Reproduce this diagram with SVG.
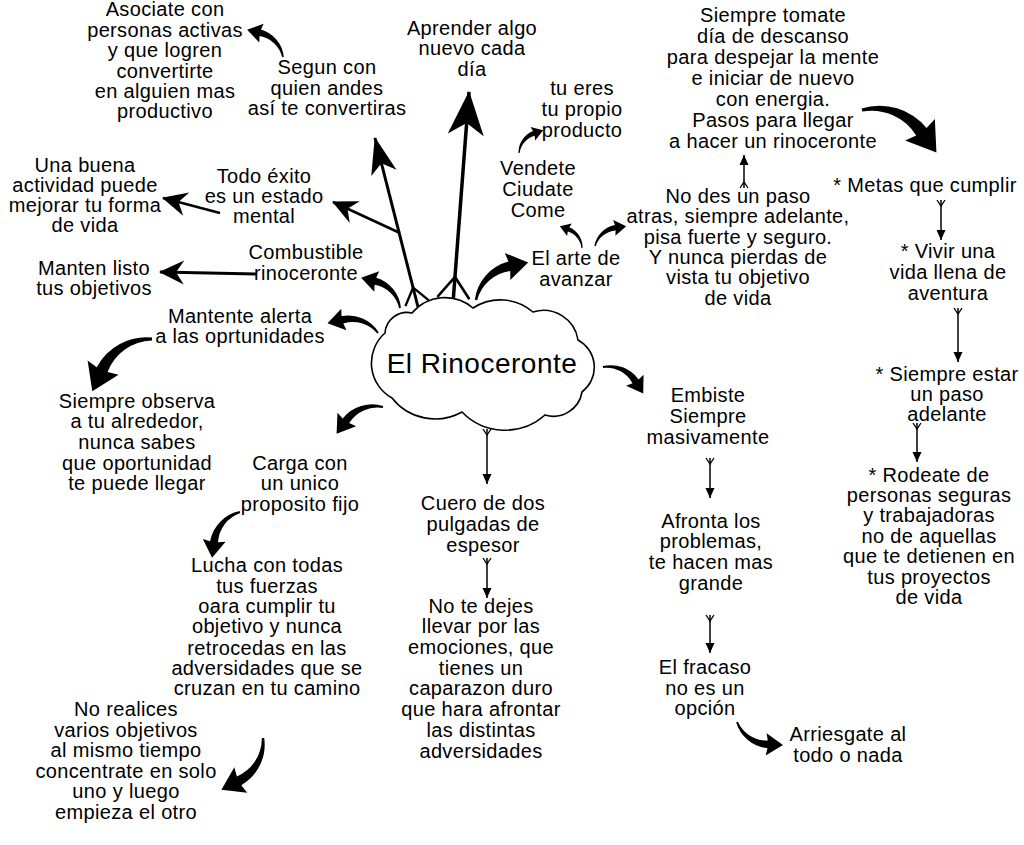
<svg xmlns="http://www.w3.org/2000/svg" width="1024" height="845" viewBox="0 0 1024 845">
<defs>
<style>
.t{font-family:"Liberation Sans",Arial,sans-serif;font-size:20px;letter-spacing:0.35px;fill:#000;text-anchor:middle}
.c{font-size:28px;letter-spacing:0.5px}
.thin{stroke:#000;stroke-width:1.5;fill:none}
.sh{stroke:#000;fill:none}
.sw{fill:#000}
</style>
<path id="sw" d="M -1.4,-1.4 A 76 76 0 0 1 80.8,-22.4 L 83.8,-37.4 L 107.1,-2.6 L 65.9,4.9 L 74.5,-7.7 A 66 66 0 0 0 1.4,1.4 Z"/>
<marker id="tri" viewBox="-12 -6 14 12" refX="0" refY="0" markerWidth="14" markerHeight="12" markerUnits="userSpaceOnUse" orient="auto"><path d="M0,0 L-10,-4.5 L-10,4.5 Z"/></marker>
<marker id="fork" viewBox="-2 -6 12 12" refX="0" refY="0" markerWidth="12" markerHeight="12" markerUnits="userSpaceOnUse" orient="auto"><path d="M0,-4 L6,0 L0,4" fill="none" stroke="#000" stroke-width="1.3"/></marker>
<marker id="dS" viewBox="-28 -14 30 28" refX="0" refY="0" markerWidth="30" markerHeight="28" markerUnits="userSpaceOnUse" orient="auto"><path d="M1,0 L-24,-12 L-16,0 L-24,12 Z"/></marker>
<marker id="dM" viewBox="-40 -16 42 32" refX="0" refY="0" markerWidth="42" markerHeight="32" markerUnits="userSpaceOnUse" orient="auto"><path d="M1,0 L-36,-13 L-26,0 L-36,13 Z"/></marker>
<marker id="dL" viewBox="-46 -20 48 40" refX="0" refY="0" markerWidth="48" markerHeight="40" markerUnits="userSpaceOnUse" orient="auto"><path d="M1,0 L-43,-18 L-31,0 L-43,18 Z"/></marker>
</defs>
<rect width="1024" height="845" fill="#fff"/>

<g id="connectors">
  <line class="sh" stroke-width="3" x1="418" y1="307" x2="375" y2="138" marker-end="url(#dM)"/>
  <path class="sh" stroke-width="2.4" d="M405.4,306.1 L413.1,287.6 L428.6,300.1"/>
  <line class="sh" stroke-width="3.5" x1="453" y1="303" x2="469" y2="92" marker-end="url(#dL)"/>
  <path class="sh" stroke-width="2.6" d="M437.4,296.8 L455,277 L469.4,299.2"/>
  <line class="sh" stroke-width="2.5" x1="400" y1="233" x2="333" y2="202" marker-end="url(#dS)"/>
  <line class="sh" stroke-width="3" x1="256" y1="274" x2="160" y2="272" marker-end="url(#dS)"/>
  <line class="sh" stroke-width="2.5" x1="220" y1="213" x2="163" y2="198" marker-end="url(#dS)"/>
  <line class="thin" x1="487" y1="429" x2="487" y2="484" marker-start="url(#fork)" marker-end="url(#tri)"/>
  <line class="thin" x1="487" y1="558" x2="487" y2="598" marker-start="url(#fork)" marker-end="url(#tri)"/>
  <line class="thin" x1="710" y1="458" x2="710" y2="498" marker-start="url(#fork)" marker-end="url(#tri)"/>
  <line class="thin" x1="710" y1="615" x2="710" y2="653" marker-start="url(#fork)" marker-end="url(#tri)"/>
  <line class="thin" x1="941" y1="200" x2="941" y2="240" marker-start="url(#fork)" marker-end="url(#tri)"/>
  <line class="thin" x1="958" y1="308" x2="958" y2="362" marker-start="url(#fork)" marker-end="url(#tri)"/>
  <line class="thin" x1="917" y1="423" x2="917" y2="462" marker-start="url(#fork)" marker-end="url(#tri)"/>
  <line class="thin" x1="744" y1="188" x2="744" y2="155" marker-start="url(#fork)" marker-end="url(#tri)"/>
  <use href="#sw" class="sw" transform="translate(283,57) rotate(-144.25) scale(0.42,-0.42)"/>
  <use href="#sw" class="sw" transform="translate(476,300) rotate(-34.35) scale(0.6,0.6)"/>
  <use href="#sw" class="sw" transform="translate(400,308) rotate(-143.55) scale(0.46,-0.46)"/>
  <use href="#sw" class="sw" transform="translate(378,333) rotate(-170.55) scale(0.48,-0.48)"/>
  <use href="#sw" class="sw" transform="translate(152,339) rotate(137.45) scale(0.74,-0.74)"/>
  <use href="#sw" class="sw" transform="translate(383,407) rotate(148.65) scale(0.5,-0.5)"/>
  <use href="#sw" class="sw" transform="translate(240,512) rotate(120.05) scale(0.5,-0.5)"/>
  <use href="#sw" class="sw" transform="translate(263,738) rotate(130.15) scale(0.62,0.62)"/>
  <use href="#sw" class="sw" transform="translate(603,367) rotate(34.85) scale(0.45,0.45)"/>
  <use href="#sw" class="sw" transform="translate(862,110) rotate(31.1) scale(0.8,0.8)"/>
  <use href="#sw" class="sw" transform="translate(582,248) rotate(-136.85) scale(0.29,-0.29)"/>
  <use href="#sw" class="sw" transform="translate(595,246) rotate(-30.95) scale(0.345,0.345)"/>
  <use href="#sw" class="sw" transform="translate(519,153) rotate(-41.95) scale(0.31,0.31)"/>
  <use href="#sw" class="sw" transform="translate(737,722) rotate(25.25) scale(0.48,-0.48)"/>
</g>

<g id="center">
  <path d="M392,398 A40 40 0 0 1 385,333 A22 22 0 0 1 412,313 A43 43 0 0 1 473,308 A50 50 0 0 1 533,312 A35 35 0 0 1 578,340 A31 31 0 0 1 582,392 A29 29 0 0 1 545,415 A60 60 0 0 1 462,412 A55 55 0 0 1 392,398 Z" fill="#fff" stroke="#000" stroke-width="1.6"/>
  <text class="t c" x="482" y="373">El Rinoceronte</text>
</g>

<g id="n-asociate"><text class="t"><tspan x="165" y="16">Asociate con</tspan><tspan x="165" y="37">personas activas</tspan><tspan x="165" y="57">y que logren</tspan><tspan x="165" y="78">convertirte</tspan><tspan x="165" y="98">en alguien mas</tspan><tspan x="165" y="118">productivo</tspan></text></g>
<g id="n-segun"><text class="t"><tspan x="327" y="74">Segun con</tspan><tspan x="327" y="95">quien andes</tspan><tspan x="327" y="115">así te convertiras</tspan></text></g>
<g id="n-aprender"><text class="t"><tspan x="472" y="35">Aprender algo</tspan><tspan x="472" y="55">nuevo cada</tspan><tspan x="472" y="76">día</tspan></text></g>
<g id="n-tueres"><text class="t"><tspan x="582" y="95">tu eres</tspan><tspan x="582" y="116">tu propio</tspan><tspan x="582" y="137">producto</tspan></text></g>
<g id="n-vendete"><text class="t"><tspan x="538" y="175">Vendete</tspan><tspan x="538" y="196">Ciudate</tspan><tspan x="538" y="217">Come</tspan></text></g>
<g id="n-arte"><text class="t"><tspan x="576" y="265">El arte de</tspan><tspan x="576" y="286">avanzar</tspan></text></g>
<g id="n-descanso"><text class="t"><tspan x="773" y="22">Siempre tomate</tspan><tspan x="773" y="43">día de descanso</tspan><tspan x="773" y="64">para despejar la mente</tspan><tspan x="773" y="85">e iniciar de nuevo</tspan><tspan x="773" y="106">con energia.</tspan><tspan x="773" y="127">Pasos para llegar</tspan><tspan x="773" y="148">a hacer un rinoceronte</tspan></text></g>
<g id="n-nodes"><text class="t"><tspan x="738" y="203">No des un paso</tspan><tspan x="738" y="223">atras, siempre adelante,</tspan><tspan x="738" y="244">pisa fuerte y seguro.</tspan><tspan x="738" y="264">Y nunca pierdas de</tspan><tspan x="738" y="284">vista tu objetivo</tspan><tspan x="738" y="305">de vida</tspan></text></g>
<g id="n-metas"><text class="t"><tspan x="925" y="192">* Metas que cumplir</tspan></text></g>
<g id="n-vivir"><text class="t"><tspan x="948" y="258">* Vivir una</tspan><tspan x="948" y="279">vida llena de</tspan><tspan x="948" y="300">aventura</tspan></text></g>
<g id="n-paso"><text class="t"><tspan x="947" y="381">* Siempre estar</tspan><tspan x="947" y="401">un paso</tspan><tspan x="947" y="421">adelante</tspan></text></g>
<g id="n-rodeate"><text class="t"><tspan x="929" y="482">* Rodeate de</tspan><tspan x="929" y="502">personas seguras</tspan><tspan x="929" y="522">y trabajadoras</tspan><tspan x="929" y="543">no de aquellas</tspan><tspan x="929" y="563">que te detienen en</tspan><tspan x="929" y="584">tus proyectos</tspan><tspan x="929" y="604">de vida</tspan></text></g>
<g id="n-embiste"><text class="t"><tspan x="708" y="402">Embiste</tspan><tspan x="708" y="423">Siempre</tspan><tspan x="708" y="444">masivamente</tspan></text></g>
<g id="n-afronta"><text class="t"><tspan x="711" y="528">Afronta los</tspan><tspan x="711" y="548">problemas,</tspan><tspan x="711" y="569">te hacen mas</tspan><tspan x="711" y="590">grande</tspan></text></g>
<g id="n-fracaso"><text class="t"><tspan x="705" y="674">El fracaso</tspan><tspan x="705" y="695">no es un</tspan><tspan x="705" y="715">opción</tspan></text></g>
<g id="n-arriesgate"><text class="t"><tspan x="848" y="741">Arriesgate al</tspan><tspan x="848" y="762">todo o nada</tspan></text></g>
<g id="n-cuero"><text class="t"><tspan x="483" y="510">Cuero de dos</tspan><tspan x="483" y="531">pulgadas de</tspan><tspan x="483" y="552">espesor</tspan></text></g>
<g id="n-notedejes"><text class="t"><tspan x="481" y="613">No te dejes</tspan><tspan x="481" y="633">llevar por las</tspan><tspan x="481" y="654">emociones, que</tspan><tspan x="481" y="675">tienes un</tspan><tspan x="481" y="695">caparazon duro</tspan><tspan x="481" y="716">que hara afrontar</tspan><tspan x="481" y="737">las distintas</tspan><tspan x="481" y="758">adversidades</tspan></text></g>
<g id="n-todo"><text class="t"><tspan x="264" y="183">Todo éxito</tspan><tspan x="264" y="203">es un estado</tspan><tspan x="264" y="223">mental</tspan></text></g>
<g id="n-unabuena"><text class="t"><tspan x="85" y="172">Una buena</tspan><tspan x="85" y="192">actividad puede</tspan><tspan x="85" y="212">mejorar tu forma</tspan><tspan x="85" y="232">de vida</tspan></text></g>
<g id="n-combustible"><text class="t"><tspan x="306" y="259">Combustible</tspan><tspan x="306" y="280">rinoceronte</tspan></text></g>
<g id="n-manten"><text class="t"><tspan x="94" y="275">Manten listo</tspan><tspan x="94" y="295">tus objetivos</tspan></text></g>
<g id="n-mantente"><text class="t"><tspan x="240" y="323">Mantente alerta</tspan><tspan x="240" y="343">a las oprtunidades</tspan></text></g>
<g id="n-observa"><text class="t"><tspan x="137" y="408">Siempre observa</tspan><tspan x="137" y="428">a tu alrededor,</tspan><tspan x="137" y="449">nunca sabes</tspan><tspan x="137" y="470">que oportunidad</tspan><tspan x="137" y="490">te puede llegar</tspan></text></g>
<g id="n-carga"><text class="t"><tspan x="300" y="470">Carga con</tspan><tspan x="300" y="490">un unico</tspan><tspan x="300" y="511">proposito fijo</tspan></text></g>
<g id="n-lucha"><text class="t"><tspan x="267" y="572">Lucha con todas</tspan><tspan x="267" y="593">tus fuerzas</tspan><tspan x="267" y="613">oara cumplir tu</tspan><tspan x="267" y="633">objetivo y nunca</tspan><tspan x="267" y="655">retrocedas en las</tspan><tspan x="267" y="675">adversidades que se</tspan><tspan x="267" y="695">cruzan en tu camino</tspan></text></g>
<g id="n-norealices"><text class="t"><tspan x="126" y="716">No realices</tspan><tspan x="126" y="737">varios objetivos</tspan><tspan x="126" y="757">al mismo tiempo</tspan><tspan x="126" y="778">concentrate en solo</tspan><tspan x="126" y="798">uno y luego</tspan><tspan x="126" y="819">empieza el otro</tspan></text></g>
</svg>
